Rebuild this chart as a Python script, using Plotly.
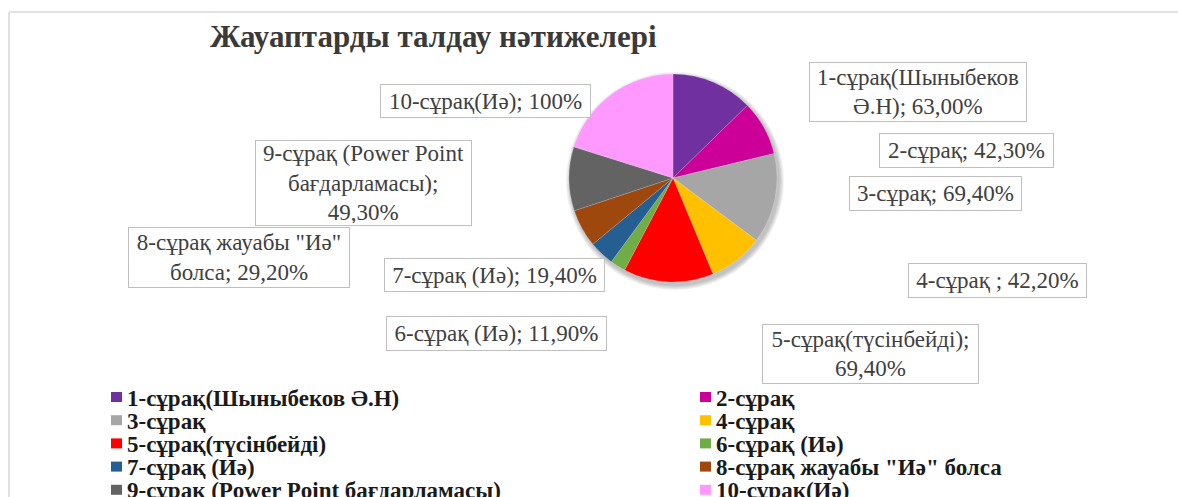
import plotly.graph_objects as go

W, H = 1178, 497

categories = [
    "1-сұрақ(Шыныбеков Ә.Н)",
    "2-сұрақ",
    "3-сұрақ",
    "4-сұрақ ",
    "5-сұрақ(түсінбейді)",
    "6-сұрақ (Иә)",
    "7-сұрақ (Иә)",
    "8-сұрақ жауабы \"Иә\" болса",
    "9-сұрақ (Power Point бағдарламасы)",
    "10-сұрақ(Иә)",
]
values = [63.0, 42.3, 69.4, 42.2, 69.4, 11.9, 19.4, 29.2, 49.3, 100.0]
colors = ["#7030A0", "#CC0099", "#A6A6A6", "#FFC000", "#FF0000",
          "#70AD47", "#255E91", "#9E480E", "#636363", "#FF99FF"]
title = "Жауаптарды талдау нәтижелері"

SERIF = "Liberation Serif"

# label layout (pixel centre x, centre y, box w, box h) and word breaks
label_boxes = [
    (918, 92, 218, 60), (966, 150, 175, 35), (936, 193, 173, 35),
    (997, 280, 179, 35), (870, 354, 217, 60), (496, 333, 221, 35),
    (494, 275, 221, 34), (239, 257, 222, 61), (364, 183, 217, 86),
    (485, 101, 211, 34),
]
label_breaks = {0: [0], 4: [0], 7: [2], 8: [2, 3]}


def fmt(v):
    if v == 100:
        return "100%"
    return f"{v:.2f}".replace(".", ",") + "%"


def label_text(i):
    words = f"{categories[i]}; {fmt(values[i])}".split(" ")
    out = ""
    for k, w in enumerate(words):
        out += w
        if k < len(words) - 1:
            out += "<br>" if k in label_breaks.get(i, []) else " "
    return out


cx, cy, r = 673, 178, 104
fig = go.Figure()
fig.add_trace(go.Pie(
    labels=categories, values=values, sort=False, direction="clockwise",
    rotation=0, marker=dict(colors=colors, line=dict(color="rgba(255,255,255,0.35)", width=0.5)),
    textinfo="none", hoverinfo="label+value", showlegend=False,
    domain=dict(x=[(cx - r) / W, (cx + r) / W], y=[(H - cy - r) / H, (H - cy + r) / H]),
))

shapes = [
    # chart frame
    dict(type="line", xref="paper", yref="paper", x0=9 / W, x1=1.02, y0=1 - 12 / H, y1=1 - 12 / H,
         line=dict(color="#E2E2E2", width=2)),
    dict(type="line", xref="paper", yref="paper", x0=9 / W, x1=9 / W, y0=1 - 12 / H, y1=-0.02,
         line=dict(color="#E2E2E2", width=2)),
]
# soft shadow under the pie
for k in range(5):
    rr = r + 1 + k
    dx, dy = 2, 3
    shapes.append(dict(type="circle", xref="paper", yref="paper", layer="below",
                       x0=(cx + dx - rr) / W, x1=(cx + dx + rr) / W,
                       y0=(H - cy - dy - rr) / H, y1=(H - cy - dy + rr) / H,
                       fillcolor="rgba(0,0,0,0.05)", line=dict(width=0)))

annotations = [
    dict(text=title, x=433 / W, y=1 - 36 / H, xref="paper", yref="paper", showarrow=False,
         xanchor="center", yanchor="middle",
         font=dict(family=SERIF, size=31, weight="bold", color="#3A3A3A")),
]

for i in range(len(categories)):
    bx, by, bw, bh = label_boxes[i]
    annotations.append(dict(
        text=label_text(i), x=bx / W, y=1 - by / H, xref="paper", yref="paper",
        showarrow=False, xanchor="center", yanchor="middle", align="center",
        width=bw - 6, height=bh - 6, borderpad=2, borderwidth=1, bordercolor="#BFBFBF",
        bgcolor="white",
        font=dict(family=SERIF, size=23, color="#404040"),
    ))

# legend (two columns, row-major)
col_x = [111, 700]
row_y0, row_dy = 397, 23.2
for i, cat in enumerate(categories):
    col, row = i % 2, i // 2
    sx = col_x[col]
    sy = row_y0 + row * row_dy
    shapes.append(dict(type="rect", xref="paper", yref="paper",
                       x0=sx / W, x1=(sx + 11) / W, y0=1 - (sy + 5) / H, y1=1 - (sy - 5) / H,
                       fillcolor=colors[i], line=dict(width=0)))
    annotations.append(dict(
        text=cat.strip(), x=(sx + 14) / W, y=1 - (sy + 1) / H, xref="paper", yref="paper",
        showarrow=False, xanchor="left", yanchor="middle",
        font=dict(family=SERIF, size=23, weight="bold", color="#1A1A1A"),
    ))

fig.update_layout(
    width=W, height=H, margin=dict(l=0, r=0, t=0, b=0),
    paper_bgcolor="white", plot_bgcolor="white",
    shapes=shapes, annotations=annotations, showlegend=False,
)
fig.write_html("out.html")
